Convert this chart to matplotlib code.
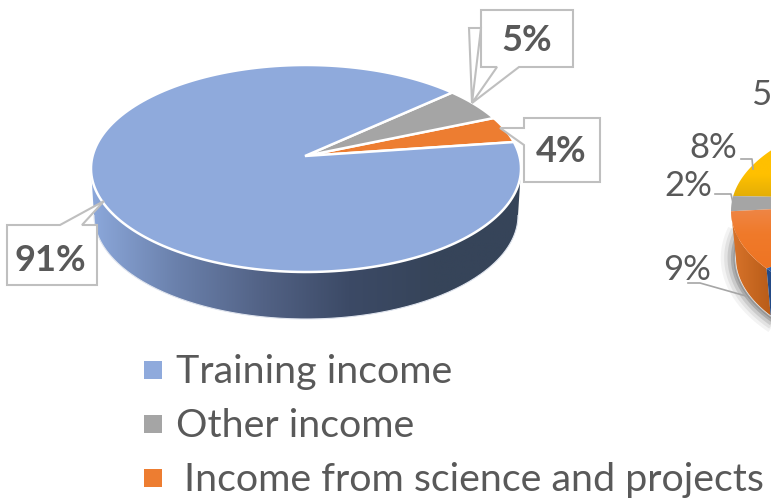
import numpy as np
import matplotlib
matplotlib.use('Agg')
import matplotlib.pyplot as plt
from matplotlib.colors import LinearSegmentedColormap
from matplotlib.patches import Polygon, Rectangle

plt.rcParams['font.family'] = ['Lato', 'DejaVu Sans']

# left pie, counter clockwise from the orange slice
left_names = ['Income from science and projects', 'Other income', 'Training income']
left_values = [4, 5, 91]
left_colors = ['#ed7d31', '#a5a5a5', '#8faadc']
left_start = 14.8

# right pie is cut off by the picture, only these slices show
right_values = [8, 2.4, 9.6, 20]
right_colors = ['#ffc000', '#a5a5a5', '#f07a2a', '#2f5fa8']
right_side = ['#e3ad07', '#8a8a8a', '#c9651f', '#234a86']
right_labels = ['8%', '2%', '9%']
right_start = 142.7

legend_names = ['Training income', 'Other income', 'Income from science and projects']
legend_colors = ['#8faadc', '#a5a5a5', '#ed7d31']

TEXT = '#595959'
LINE = '#bfbfbf'


def arc(cx, cy, rx, ry, a0, a1, n=200):
    t = np.radians(np.linspace(a0, a1, n))
    return np.column_stack([cx + rx * np.cos(t), cy - ry * np.sin(t)])


def gradient(ax, verts, colors, horizontal=True, zorder=2):
    cmap = LinearSegmentedColormap.from_list('g', colors)
    x0, y0 = verts.min(axis=0)
    x1, y1 = verts.max(axis=0)
    g = np.linspace(0, 1, 256)
    g = g[None, :] if horizontal else g[:, None]
    im = ax.imshow(g, cmap=cmap, extent=[x0, x1, y1, y0], aspect='auto', zorder=zorder)
    im.set_clip_path(Polygon(verts, transform=ax.transData))


fig = plt.figure(figsize=(7.71, 4.98), dpi=100)
ax = fig.add_axes([0, 0, 1, 1])

# left pie
cx, cy, rx, ry = 306, 168.5, 215, 103.5
side = np.vstack([arc(cx, cy, rx, ry, 180, 360), arc(cx, cy + 47, rx - 3, ry, 360, 180)])
gradient(ax, side, ['#8ca8db', '#6a80ab', '#526285', '#3c4a66', '#364459', '#364459'])
ax.plot(*arc(cx, cy + 47, rx - 3, ry, 180, 360).T, color='#dfe4ee', lw=0.8, zorder=3)

angle = left_start
for value, color in zip(left_values, left_colors):
    sweep = value * 3.6
    pts = np.vstack([[[305, 156]], arc(cx, cy, rx, ry, angle, angle + sweep)])
    ax.add_patch(Polygon(pts, facecolor=color, edgecolor='white', lw=1.8, zorder=4))
    angle += sweep

# callouts of the left pie
boxes = [
    [(481, 10), (573, 10), (573, 67), (519, 67), (472, 103), (497, 67), (481, 67), (481, 28), (469, 28), (472, 103), (481, 28)],
    [(524, 118), (600, 118), (600, 182), (524, 182), (524, 145), (500, 128), (524, 128)],
    [(7, 225), (60, 225), (104, 201), (82, 225), (97, 225), (97, 285), (7, 285)],
]
for box in boxes:
    ax.add_patch(Polygon(box, facecolor='white', edgecolor=LINE, lw=1.5, zorder=5))
label_pos = [(561, 151), (527, 40), (50, 260)]
for value, (x, y) in zip(left_values, label_pos):
    ax.text(x, y, f'{value}%', fontsize=26, fontweight='bold', color=TEXT,
            ha='center', va='center', zorder=6)

# right pie
cx2, cy2, rx2, ry2 = 931, 211, 200, 101
for grow, alpha in zip([9, 7, 5, 3, 1.5], [0.05, 0.08, 0.12, 0.18, 0.25]):
    shadow = arc(cx2, cy2 + 47, rx2 - 5 + grow, ry2 + grow, 165, 300)
    ax.add_patch(Polygon(shadow, closed=False, facecolor='none', edgecolor='#222222',
                         alpha=alpha, lw=grow, zorder=1))

angle = right_start
for value, color, dark in zip(right_values, right_colors, right_side):
    sweep = value * 3.6
    end = angle + sweep
    if end > 180:
        a0 = max(angle, 180)
        wall = np.vstack([arc(cx2, cy2, rx2, ry2, a0, end), arc(cx2, cy2 + 47, rx2 - 5, ry2, end, a0)])
        if color == '#f07a2a':
            gradient(ax, wall, ['#d9742b', '#b85c18'], zorder=2)
        else:
            ax.add_patch(Polygon(wall, facecolor=dark, edgecolor='none', zorder=2))
    pts = np.vstack([[[950, 200]], arc(cx2, cy2, rx2, ry2, angle, end)])
    if color == '#ffc000':
        gradient(ax, pts, ['#ffc000', '#ffc000', '#dfab08'], horizontal=False, zorder=3)
    elif color == '#f07a2a':
        gradient(ax, pts, ['#ee8a50', '#f07a2a', '#ee7423'], horizontal=False, zorder=3)
    else:
        ax.add_patch(Polygon(pts, facecolor=color, edgecolor='none', zorder=3))
    angle = end

ax.text(751, 95, '5', fontsize=25, color=TEXT, ha='left', va='center', zorder=6)
right_pos = [(713, 148), (688, 186), (687, 270)]
for label, (x, y) in zip(right_labels, right_pos):
    ax.text(x, y, label, fontsize=25, color=TEXT, ha='center', va='center', zorder=6)
leaders = [
    [(741, 159), (752, 159), (753, 169)],
    [(715, 194), (731, 194), (733, 203)],
    [(688, 283), (700, 283), (746, 296)],
]
for line in leaders:
    ax.plot(*np.array(line).T, color='#a6a6a6', lw=1.2, zorder=6)

# legend
legend_x = [176, 176, 184]
legend_y = [361, 415, 469]
for name, color, x, y in zip(legend_names, legend_colors, legend_x, legend_y):
    ax.add_patch(Rectangle((144, y), 18, 18, facecolor=color, edgecolor='none', zorder=5))
    ax.text(x, y + 22, name, fontsize=28.4, color=TEXT, ha='left', va='baseline', zorder=6)

ax.set_xlim(0, 771)
ax.set_ylim(498, 0)
ax.axis('off')
fig.savefig('out.png', dpi=100)
